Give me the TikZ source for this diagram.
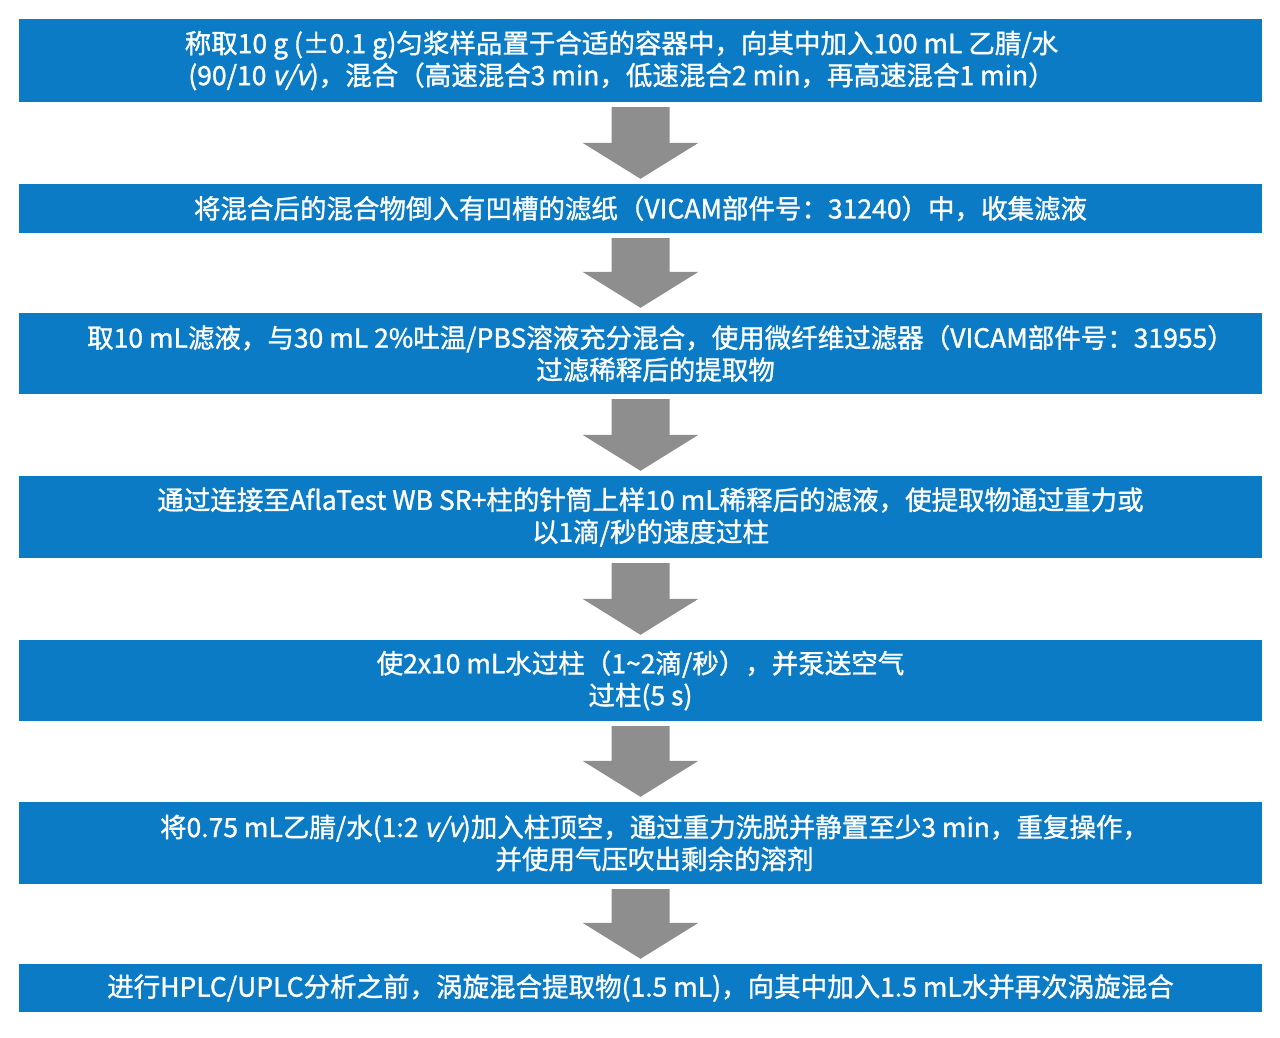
\documentclass[tikz,border=0pt]{standalone}
\usepackage{fontspec}
\setmainfont{Liberation Sans}
\newfontfamily\cjk[BoldFont=Noto Sans CJK SC,BoldFeatures={FakeBold=1.2},BoldItalicFont=Noto Sans CJK SC,BoldItalicFeatures={FakeBold=1.2,FakeSlant=0.2}]{Noto Sans CJK SC}
\usetikzlibrary{calc}
\definecolor{bx}{HTML}{0B7BC5}
\definecolor{ar}{HTML}{8E8E8E}
\begin{document}
\begin{tikzpicture}[x=1pt,y=-1pt,
 stepbox/.style={fill=bx,text=white,minimum width=1243pt,inner sep=0pt,align=center,font=\cjk\bfseries\fontsize{26.5}{32}\selectfont}]
\useasboundingbox (0,0) rectangle (1280,1038);
\node[stepbox,minimum height=83pt] (b1) at (640.5,60.5) {\hspace*{-38pt}称取10 g (±0.1 g)匀浆样品置于合适的容器中，向其中加入100 mL 乙腈/水\\\hspace*{-38pt}(90/10 \textit{v/v})，混合（高速混合3 min，低速混合2 min，再高速混合1 min）};
\node[stepbox,minimum height=49pt] (b2) at (640.5,208.5) {将混合后的混合物倒入有凹槽的滤纸（VICAM部件号：31240）中，收集滤液};
\node[stepbox,minimum height=81pt] (b3) at (640.5,353.5) {\hspace*{40pt}取10 mL滤液，与30 mL 2\%吐温/PBS溶液充分混合，使用微纤维过滤器（VICAM部件号：31955）\\\hspace*{30pt}过滤稀释后的提取物};
\node[stepbox,minimum height=82pt] (b4) at (640.5,517) {\hspace*{20pt}通过连接至AflaTest WB SR+柱的针筒上样10 mL稀释后的滤液，使提取物通过重力或\\\hspace*{20pt}以1滴/秒的速度过柱};
\node[stepbox,minimum height=81pt] (b5) at (640.5,680.5) {使2x10 mL水过柱（1\textasciitilde 2滴/秒），并泵送空气\\过柱(5 s)};
\node[stepbox,minimum height=82pt] (b6) at (640.5,843) {\hspace*{28pt}将0.75 mL乙腈/水(1:2 \textit{v/v})加入柱顶空，通过重力洗脱并静置至少3 min，重复操作，\\\hspace*{28pt}并使用气压吹出剩余的溶剂};
\node[stepbox,minimum height=48pt] (b7) at (640.5,988) {进行HPLC/UPLC分析之前，涡旋混合提取物(1.5 mL)，向其中加入1.5 mL水并再次涡旋混合};
\foreach \a/\b in {b1/b2,b2/b3,b3/b4,b4/b5,b5/b6,b6/b7}{
 \fill[ar] let \p1=($(\a.south)+(0,5)$), \p2=($(\b.north)+(0,-5)$) in
  (\x1-29,\y1) -- (\x1+29,\y1) -- (\x1+29,\y2+36) -- (\x1+58,\y2+36) -- (\x1,\y2) -- (\x1-58,\y2+36) -- (\x1-29,\y2+36) -- cycle;
}
\end{tikzpicture}
\end{document}
